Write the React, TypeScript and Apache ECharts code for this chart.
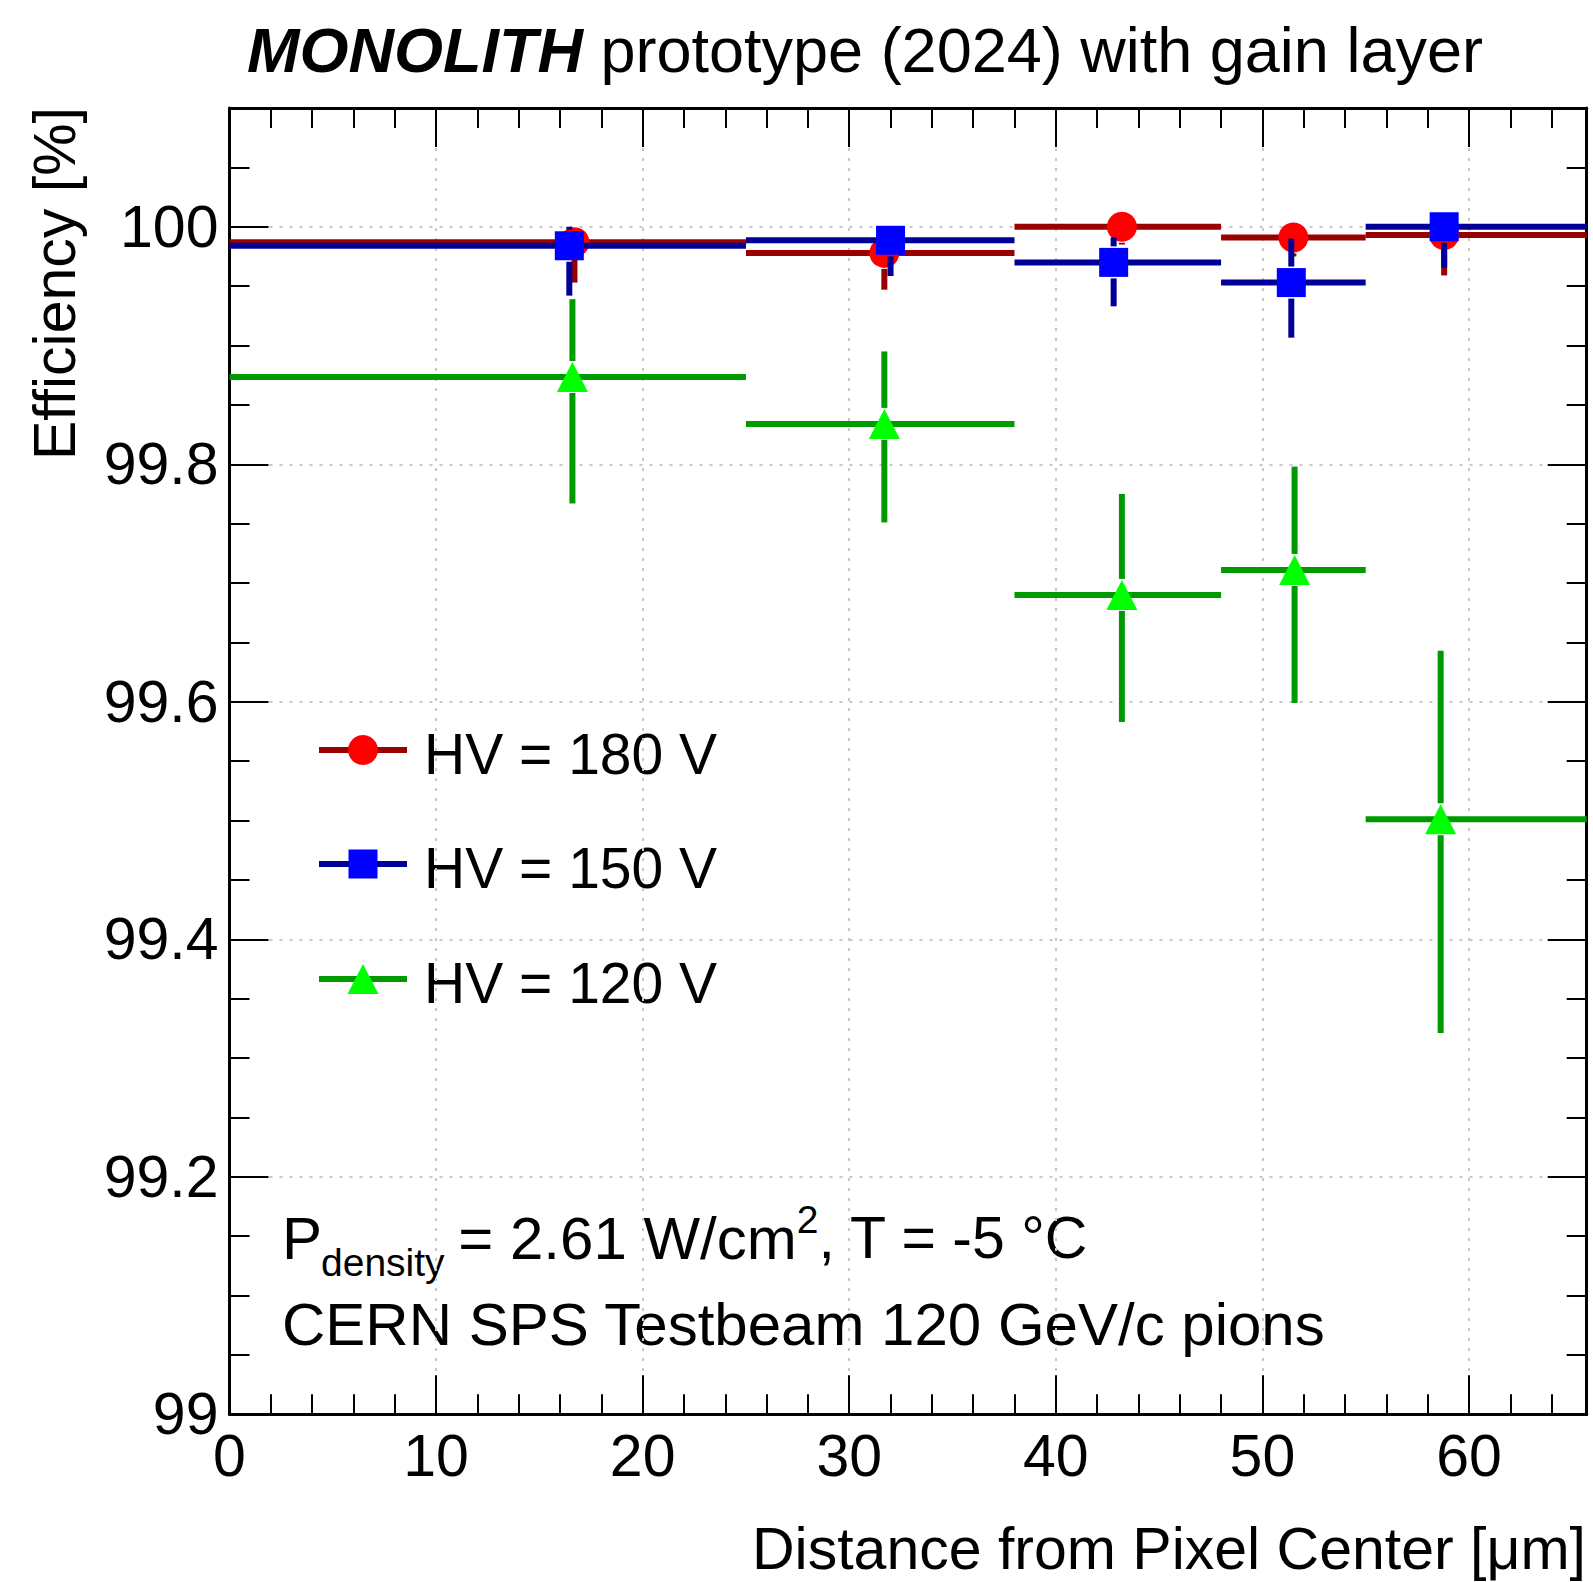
import React, { useEffect, useRef } from 'react';
import * as echarts from 'echarts';

// ---------- data ----------
const binEdges = [0, 25, 38, 48, 55, 65.7];
const xTickValues = [0, 10, 20, 30, 40, 50, 60];
const yTickValues = [99, 99.2, 99.4, 99.6, 99.8, 100];

const seriesNames = ['HV = 180 V', 'HV = 150 V', 'HV = 120 V'];

const meanX180 = [16.7, 31.7, 43.2, 51.5, 58.8];
const eff180 = [99.987, 99.978, 100.0, 99.991, 99.993];
const low180 = [99.953, 99.947, 99.985, 99.975, 99.959];
const high180 = [100.0, 99.999, 100.0, 100.0, 100.0];

const meanX150 = [16.45, 32.0, 42.8, 51.4, 58.8];
const eff150 = [99.984, 99.9886, 99.97, 99.953, 100.0];
const low150 = [99.942, 99.9585, 99.933, 99.9066, 99.9655];
const high150 = [100.0, 100.0, 99.991, 99.99, 100.0];

const meanX120 = [16.6, 31.7, 43.2, 51.56, 58.63];
const eff120 = [99.8735, 99.834, 99.69, 99.711, 99.501];
const low120 = [99.767, 99.751, 99.583, 99.599, 99.321];
const high120 = [99.939, 99.895, 99.775, 99.798, 99.643];

const X_MIN = 0;
const X_MAX = 65.7;
const Y_MIN = 99;
const Y_MAX = 100.1;

const FONT = '"Liberation Sans", Arial, Helvetica, sans-serif';

function buildData(mx: number[], y: number[], lo: number[], hi: number[]) {
  return mx.map((m, i) => [binEdges[i], binEdges[i + 1], m, y[i], lo[i], hi[i]]);
}

function markerEl(shape: string, cx: number, cy: number, color: string): any {
  if (shape === 'circle') return { type: 'circle', shape: { cx, cy, r: 15 }, style: { fill: color } };
  if (shape === 'square') return { type: 'rect', shape: { x: cx - 14.5, y: cy - 14.5, width: 29, height: 29 }, style: { fill: color } };
  return { type: 'polygon', shape: { points: [[cx, cy - 15], [cx + 15.5, cy + 15], [cx - 15.5, cy + 15]] }, style: { fill: color } };
}

function makeRender(lineColor: string, markerColor: string, shape: string) {
  return (params: any, api: any) => {
    const xlo = api.value(0), xhi = api.value(1), xm = api.value(2);
    const y = api.value(3), ylo = api.value(4), yhi = api.value(5);
    const pL = api.coord([xlo, y]);
    const pR = api.coord([xhi, y]);
    const pM = api.coord([xm, y]);
    const pLo = api.coord([xm, ylo]);
    const pHi = api.coord([xm, yhi]);
    const gap = 16;
    const lw = 6;
    const children: any[] = [
      { type: 'line', shape: { x1: pL[0], y1: pL[1], x2: pR[0], y2: pR[1] }, style: { stroke: lineColor, lineWidth: lw } },
    ];
    if (pHi[1] < pM[1] - gap) {
      children.push({ type: 'line', shape: { x1: pM[0], y1: pM[1] - gap, x2: pM[0], y2: pHi[1] }, style: { stroke: lineColor, lineWidth: lw } });
    }
    if (pLo[1] > pM[1] + gap) {
      children.push({ type: 'line', shape: { x1: pM[0], y1: pM[1] + gap, x2: pM[0], y2: pLo[1] }, style: { stroke: lineColor, lineWidth: lw } });
    }
    children.push(markerEl(shape, pM[0], pM[1], markerColor));
    return { type: 'group', children };
  };
}

const isTick = (v: number, list: number[]) => list.some((t) => Math.abs(t - v) < 1e-6);

function measure(text: string, font: string) {
  const c = document.createElement('canvas').getContext('2d') as CanvasRenderingContext2D;
  c.font = font;
  return c.measureText(text).width;
}

function txt(text: string, x: number, y: number, size: number, extra: any = {}) {
  return {
    type: 'text',
    x,
    y,
    style: { text, fill: '#000', fontSize: size, fontFamily: FONT, verticalAlign: 'middle', align: 'left', ...extra },
  };
}

export default function App() {
  const ref = useRef<HTMLDivElement>(null);
  useEffect(() => {
    if (!ref.current) return;
    const chart = echarts.init(ref.current, undefined, { renderer: 'svg' });

    const gridLine = { show: true, lineStyle: { color: '#c8c8c8', width: 2, type: [3, 7] as any } };
    const axisLineStyle = { show: true, onZero: false, lineStyle: { color: '#000', width: 3 } };
    const noLine = { show: false, onZero: false };
    const majorTick = { show: true, inside: true, length: 39, lineStyle: { color: '#000', width: 2 } };
    const minorTick = { show: true, inside: true, length: 20, lineStyle: { color: '#000', width: 2 } };
    const labelStyle = { color: '#000', fontSize: 59, fontFamily: FONT };

    const fmtY = (v: number) => (isTick(v, yTickValues) ? String(Math.round(v * 10) / 10) : '');
    const fmtX = (v: number) => (isTick(v, xTickValues) ? String(Math.round(v)) : '');

    const gridBox = { left: 229.5, right: 6.3, top: 108, bottom: 167.7, containLabel: false };

    const mkX = (gi: number, position: string, interval: number, major: boolean, labels: boolean, split: boolean) => ({
      type: 'value', gridIndex: gi, min: X_MIN, max: X_MAX, position, interval,
      axisLine: major ? axisLineStyle : noLine,
      axisTick: major ? majorTick : minorTick,
      axisLabel: labels ? { ...labelStyle, margin: 12, formatter: fmtX, showMaxLabel: false } : { show: false },
      splitLine: split ? gridLine : { show: false },
    });
    const mkY = (gi: number, position: string, interval: number, major: boolean, labels: boolean, split: boolean) => ({
      type: 'value', gridIndex: gi, min: Y_MIN, max: Y_MAX, position, interval,
      axisLine: major ? axisLineStyle : noLine,
      axisTick: major ? majorTick : minorTick,
      axisLabel: labels ? { ...labelStyle, margin: 11, formatter: fmtY, showMaxLabel: false } : { show: false },
      splitLine: split ? gridLine : { show: false },
    });

    // annotation positions via measured text
    const AS = 60;
    const SS = 39;
    const fA = `${AS}px ${FONT}`;
    const fS = `${SS}px ${FONT}`;
    let ax = 282;
    const ann: any[] = [];
    ann.push(txt('P', ax, 1238, AS));
    ax += measure('P', fA) - 1;
    ann.push(txt('density', ax, 1262, SS));
    ax += measure('density', fS) - 3;
    ann.push(txt(' = 2.61 W/cm', ax, 1238, AS));
    ax += measure(' = 2.61 W/cm', fA);
    ann.push(txt('2', ax, 1219, SS));
    ax += measure('2', fS);
    ann.push(txt(', T = -5 °C', ax, 1238, 59));
    ann.push(txt('CERN SPS Testbeam 120 GeV/c pions', 282, 1324, AS));

    // title
    const tb = `italic bold 63px ${FONT}`;
    const tx0 = 247;
    const title: any[] = [
      txt('MONOLITH', tx0, 50, 63, { fontWeight: 'bold', fontStyle: 'italic' }),
      txt(' prototype (2024) with gain layer', tx0 + measure('MONOLITH', tb), 50, 63),
    ];

    // legend
    const legRows = [750, 864, 979];
    const legLine = ['#990000', '#000099', '#009900'];
    const legMarker = ['#ff0000', '#0000ff', '#00ff00'];
    const legShape = ['circle', 'square', 'triangle'];
    const legend: any[] = [];
    legRows.forEach((ly, i) => {
      legend.push({ type: 'line', shape: { x1: 319, y1: ly, x2: 407, y2: ly }, style: { stroke: legLine[i], lineWidth: 6 } });
      legend.push(markerEl(legShape[i], 363, ly, legMarker[i]));
      legend.push(txt(seriesNames[i], 424, ly + 4, 57));
    });

    const option: any = {
      animation: false,
      backgroundColor: '#fff',
      grid: [gridBox, gridBox, gridBox, gridBox],
      xAxis: [
        mkX(0, 'bottom', 10, true, true, true),
        mkX(1, 'top', 10, true, false, false),
        mkX(2, 'bottom', 2, false, false, false),
        mkX(3, 'top', 2, false, false, false),
      ],
      yAxis: [
        mkY(0, 'left', 0.2, true, true, true),
        mkY(1, 'right', 0.2, true, false, false),
        mkY(2, 'left', 0.05, false, false, false),
        mkY(3, 'right', 0.05, false, false, false),
      ],
      series: [
        {
          name: seriesNames[0], type: 'custom', xAxisIndex: 0, yAxisIndex: 0,
          renderItem: makeRender('#990000', '#ff0000', 'circle'),
          encode: { x: [0, 1, 2], y: [3, 4, 5] },
          data: buildData(meanX180, eff180, low180, high180), z: 3,
        },
        {
          name: seriesNames[1], type: 'custom', xAxisIndex: 0, yAxisIndex: 0,
          renderItem: makeRender('#000099', '#0000ff', 'square'),
          encode: { x: [0, 1, 2], y: [3, 4, 5] },
          data: buildData(meanX150, eff150, low150, high150), z: 4,
        },
        {
          name: seriesNames[2], type: 'custom', xAxisIndex: 0, yAxisIndex: 0,
          renderItem: makeRender('#009900', '#00ff00', 'triangle'),
          encode: { x: [0, 1, 2], y: [3, 4, 5] },
          data: buildData(meanX120, eff120, low120, high120), z: 5,
        },
      ],
      graphic: [
        ...title,
        { type: 'text', x: 55, y: 107, rotation: Math.PI / 2, style: { text: 'Efficiency [%]', fill: '#000', fontSize: 59, fontFamily: FONT, align: 'right', verticalAlign: 'middle' } },
        txt('Distance from Pixel Center [μm]', 1586, 1549, 59, { align: 'right' }),
        ...legend,
        ...ann,
      ],
    };
    chart.setOption(option);
    return () => chart.dispose();
  }, []);
  return <div ref={ref} style={{ position: 'absolute', left: 0, top: 0, width: 1593, height: 1582 }} />;
}
